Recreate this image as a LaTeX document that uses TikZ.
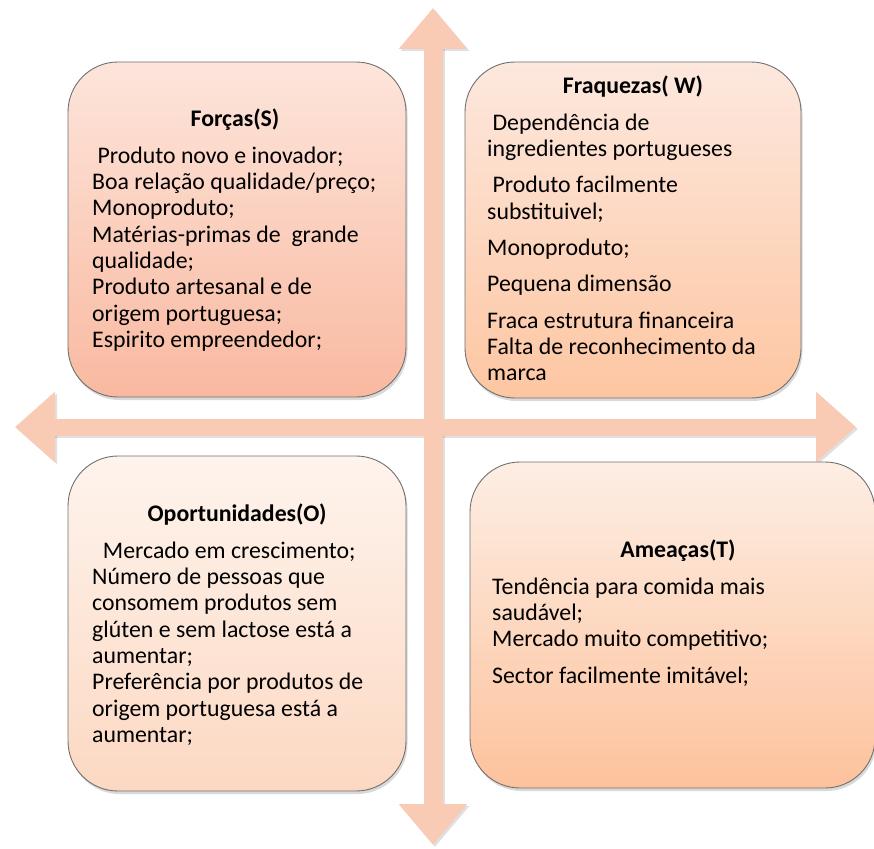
\documentclass[tikz,border=0pt]{standalone}
\usepackage{fontspec}
\setmainfont{Carlito}
\usetikzlibrary{arrows.meta,shadows,positioning}

\definecolor{eixocor}{RGB}{249,202,180}
\definecolor{bordacor}{RGB}{112,112,112}
\definecolor{forcasA}{RGB}{253,229,219}
\definecolor{forcasB}{RGB}{249,185,160}
\definecolor{fraqA}{RGB}{253,232,222}
\definecolor{fraqB}{RGB}{253,198,162}
\definecolor{oportA}{RGB}{254,244,237}
\definecolor{oportB}{RGB}{252,216,194}
\definecolor{ameacA}{RGB}{253,238,228}
\definecolor{ameacB}{RGB}{253,194,156}

\tikzset{
  eixo/.style={draw=eixocor, line cap=butt},
  eixosombra/.style={draw=black, opacity=0.12, line cap=butt},
  swot/.style 2 args={draw=bordacor, line width=0.9pt, rounded corners=50pt,
    top color=#1, bottom color=#2,
    drop shadow={shadow xshift=1.5pt, shadow yshift=-3pt, opacity=0.3}},
  titulo/.style={font=\fontsize{23.8}{26.3}\selectfont\bfseries, anchor=base, inner sep=0pt},
  corpo/.style={font=\fontsize{23.8}{26.3}\selectfont, align=left, anchor=north west, inner sep=0pt}
}

\begin{document}
\begin{tikzpicture}[x=1pt,y=-1pt]
\useasboundingbox (0,0) rectangle (874,848);
% eixos
\coordinate (cima) at (433,8);
\coordinate (baixo) at (433,845);
\coordinate (esq) at (15,427);
\coordinate (dir) at (856,427);
\draw[eixosombra, line width=19pt, {Triangle[width=66pt,length=41pt]}-{Triangle[width=66pt,length=41pt]}] ([shift={(2,2)}]cima) -- ([shift={(2,2)}]baixo);
\draw[eixosombra, line width=17pt, {Triangle[width=68pt,length=40pt]}-{Triangle[width=68pt,length=40pt]}] ([shift={(2,2)}]esq) -- ([shift={(2,2)}]dir);
\draw[eixo, line width=19pt, {Triangle[width=66pt,length=41pt]}-{Triangle[width=66pt,length=41pt]}] (cima) -- (baixo);
\draw[eixo, line width=17pt, {Triangle[width=68pt,length=40pt]}-{Triangle[width=68pt,length=40pt]}] (esq) -- (dir);

% quadrantes
\node[swot={forcasA}{forcasB}, minimum width=338pt, minimum height=335pt] (forcas) at (237,229.5) {};
\node[swot={fraqA}{fraqB}, minimum width=336pt, minimum height=336pt] (fraquezas) at (633,230) {};
\node[swot={oportA}{oportB}, minimum width=338pt, minimum height=335pt] (oport) at (237,623.5) {};
\node[swot={ameacA}{ameacB}, minimum width=405pt, minimum height=326pt] (ameacas) at (672.5,625) {};

% Forcas
\node[titulo] (tforcas) at (235,126) {Forças(S)};
\node[corpo] (cforcas) at (92,146.5) {\ Produto novo e inovador;\\
  Boa relação qualidade/preço;\\
  Monoproduto;\\
  Matérias-primas de~ grande\\
  qualidade;\\
  Produto artesanal e de\\
  origem portuguesa;\\
  Espirito empreendedor;};

% Fraquezas
\node[titulo] (tfraquezas) at (633,94) {Fraquezas( W)};
\node[corpo] (cfraquezas) at (487,113.5) {\ Dependência de\\
  ingredientes portugueses\\[10pt]
  \ Produto facilmente\\
  substituivel;\\[10pt]
  Monoproduto;\\[10pt]
  Pequena dimensão\\[10pt]
  Fraca estrutura financeira\\
  Falta de reconhecimento da\\
  marca};

% Oportunidades
\node[titulo] (toport) at (237,521) {Oportunidades(O)};
\node[corpo] (coport) at (92,541.5) {\ \ Mercado em crescimento;\\
  Número de pessoas que\\
  consomem produtos sem\\
  glúten e sem lactose está a\\
  aumentar;\\
  Preferência por produtos de\\
  origem portuguesa está a\\
  aumentar;};

% Ameacas
\node[titulo] (tameacas) at (678,557) {Ameaças(T)};
\node[corpo] (cameacas) at (492,577.5) {Tendência para comida mais\\
  saudável;\\
  Mercado muito competitivo;\\[10pt]
  Sector facilmente imitável;};
\end{tikzpicture}
\end{document}
